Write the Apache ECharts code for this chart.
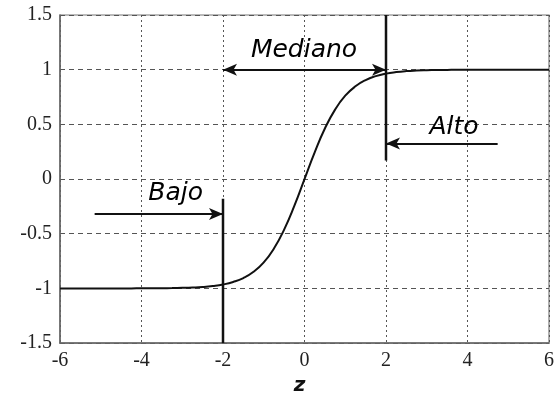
<!DOCTYPE html>
<html>
<head>
<meta charset="utf-8">
<script src="https://cdn.jsdelivr.net/npm/echarts@6/dist/echarts.min.js"></script>
<style>
  html, body { margin: 0; padding: 0; background: #fff; }
  #chart { width: 559px; height: 401px; }
</style>
</head>
<body>
<div id="chart"></div>
<script>
// Activation curve samples (z, output)
const zValues = [-6, -5.75, -5.5, -5.25, -5, -4.75, -4.5, -4.25, -4, -3.75, -3.5, -3.25,
  -3, -2.75, -2.5, -2.25, -2, -1.75, -1.5, -1.25, -1, -0.75, -0.5, -0.25, 0,
  0.25, 0.5, 0.75, 1, 1.25, 1.5, 1.75, 2, 2.25, 2.5, 2.75, 3, 3.25, 3.5, 3.75,
  4, 4.25, 4.5, 4.75, 5, 5.25, 5.5, 5.75, 6];
const outputValues = [-1, -1, -1, -1, -1, -1, -1, -1, -0.999, -0.999, -0.998, -0.997,
  -0.995, -0.992, -0.987, -0.978, -0.964, -0.941, -0.905, -0.848, -0.762, -0.635, -0.462, -0.245, 0,
  0.245, 0.462, 0.635, 0.762, 0.848, 0.905, 0.941, 0.964, 0.978, 0.987, 0.992, 0.995, 0.997, 0.998, 0.999,
  0.999, 1, 1, 1, 1, 1, 1, 1, 1];

// Axis ranges and ticks
const xRange = [-6, 6, 2];
const yRange = [-1.5, 1.5, 0.5];
const xAxisTitle = 'z';

// Region boundaries: vertical markers [z, from, to]
const boundaryLines = [[-2, -1.5, -0.18], [2, 0.17, 1.5]];

// Region arrows: [fromZ, fromY, toZ, toY, doubleHeaded]
const regionArrows = [
  [-2, 1, 2, 1, true],              // Mediano
  [-5.15, -0.32, -2, -0.32, false], // Bajo
  [4.74, 0.325, 2, 0.325, false]    // Alto
];

// Region names and where they sit [z, y, text]
const regionLabels = [
  [0, 1.17, 'Mediano'],
  [-3.15, -0.14, 'Bajo'],
  [3.68, 0.47, 'Alto']
];

const chart = echarts.init(document.getElementById('chart'), null, { renderer: 'canvas' });

const curve = zValues.map((z, i) => [z, outputValues[i]]);

const boundarySeries = boundaryLines.map(b => ({
  type: 'line',
  data: [[b[0], b[1]], [b[0], b[2]]],
  showSymbol: false,
  silent: true,
  lineStyle: { color: '#111', width: 2.5 },
  z: 4
}));

const arrowData = regionArrows.map(a => [
  { coord: [a[0], a[1]], symbol: a[4] ? 'arrow' : 'none', symbolSize: [9, 14] },
  { coord: [a[2], a[3]], symbol: 'arrow', symbolSize: [9, 14] }
]);

const tickFont = { fontFamily: 'Liberation Serif', fontSize: 20, color: '#222' };

chart.setOption({
  animation: false,
  backgroundColor: '#fff',
  grid: {
    left: 60, top: 15, right: 10, bottom: 52,
    show: true, borderColor: '#777', borderWidth: 1.2
  },
  xAxis: {
    type: 'value',
    min: xRange[0], max: xRange[1], interval: xRange[2],
    name: xAxisTitle,
    nameLocation: 'middle',
    nameGap: 32,
    nameTextStyle: {
      fontFamily: 'DejaVu Sans', fontWeight: 'bold', fontStyle: 'italic',
      fontSize: 20, color: '#111', padding: [0, 10, 0, 0]
    },
    axisLine: { show: true, onZero: false, lineStyle: { color: '#666', width: 1.5 } },
    axisTick: { show: false },
    axisLabel: Object.assign({ margin: 8 }, tickFont),
    splitLine: { show: true, lineStyle: { color: '#555', width: 1, type: [2, 3] } }
  },
  yAxis: {
    type: 'value',
    min: yRange[0], max: yRange[1], interval: yRange[2],
    axisLine: { show: true, onZero: false, lineStyle: { color: '#666', width: 1.5 } },
    axisTick: { show: false },
    axisLabel: Object.assign({ margin: 8 }, tickFont),
    splitLine: { show: true, lineStyle: { color: '#555', width: 1, type: [5, 4] } }
  },
  series: [
    {
      type: 'line',
      data: curve,
      showSymbol: false,
      smooth: true,
      silent: true,
      lineStyle: { color: '#111', width: 2 },
      z: 3,
      markLine: {
        silent: true,
        animation: false,
        label: { show: false },
        lineStyle: { color: '#111', width: 2, type: 'solid' },
        data: arrowData
      }
    },
    ...boundarySeries,
    {
      type: 'scatter',
      data: regionLabels.map(l => ({ value: [l[0], l[1]], name: l[2] })),
      symbolSize: 1,
      itemStyle: { opacity: 0 },
      silent: true,
      label: {
        show: true,
        position: [0, 0],
        align: 'center',
        verticalAlign: 'middle',
        formatter: p => p.name,
        fontFamily: 'DejaVu Sans',
        fontStyle: 'italic',
        fontSize: 25,
        color: '#000',
        opacity: 1
      },
      z: 5
    }
  ]
});
</script>
</body>
</html>
